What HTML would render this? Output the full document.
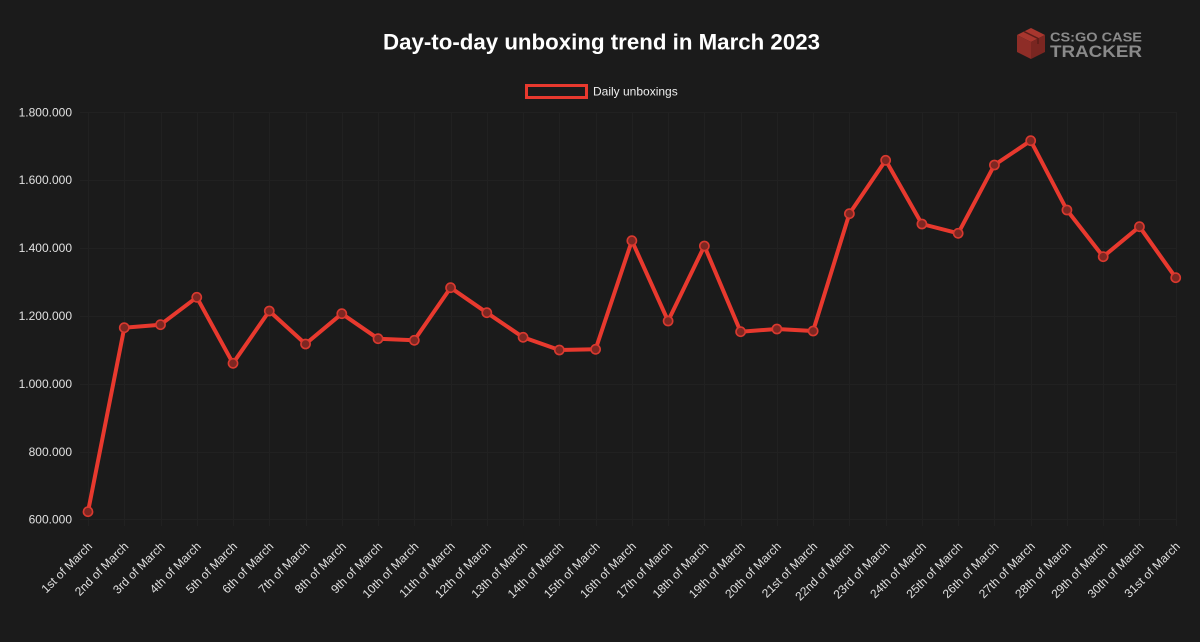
<!DOCTYPE html>
<html><head><meta charset="utf-8"><style>
html,body{margin:0;padding:0;background:#1b1b1b;}
svg{display:block;}
text{font-family:"Liberation Sans",Arial,sans-serif;}
</style></head><body>
<svg width="1200" height="642" viewBox="0 0 1200 642" xmlns="http://www.w3.org/2000/svg">
<rect width="1200" height="642" fill="#1b1b1b"/>
<g id="grid" stroke="#212121" stroke-width="1"></g>
<text x="383" y="49.5" font-size="22" font-weight="bold" fill="#ffffff" textLength="437" lengthAdjust="spacingAndGlyphs">Day-to-day unboxing trend in March 2023</text>
<!-- logo -->
<g>
<polygon points="1031,28 1045,35 1031,42 1017,35" fill="#a8362e"/>
<polygon points="1017,35 1031,42 1031,59 1017,52" fill="#8e2d27"/>
<polygon points="1031,42 1045,35 1045,52 1031,59" fill="#7a2621"/>
<polyline points="1024,31.5 1038,38.5 1038,44" fill="none" stroke="#5a1d19" stroke-width="1.5"/>
<text x="1050" y="41.5" font-size="13" font-weight="bold" fill="#8a8a8a" textLength="92" lengthAdjust="spacingAndGlyphs">CS:GO CASE</text>
<text x="1050" y="57" font-size="17" font-weight="bold" fill="#8a8a8a" textLength="92" lengthAdjust="spacingAndGlyphs">TRACKER</text>
</g>
<!-- legend -->
<rect x="526.5" y="85.5" width="60" height="12" fill="#1b1b1b" stroke="#e8392e" stroke-width="3"/>
<text x="593" y="95.5" font-size="12" fill="#eeeeee">Daily unboxings</text>
<g id="ylabels" font-size="12" fill="#e0e0e0" text-anchor="end"></g>
<g id="xlabels" font-size="12" fill="#e0e0e0" text-anchor="end"></g>
<polyline id="line" fill="none" stroke="#e8392e" stroke-width="4" stroke-linejoin="round" stroke-linecap="round"/>
<g id="pts"></g>
</svg>
<script>
var NS="http://www.w3.org/2000/svg";
var ys=[511.7,327.7,324.7,297.3,363.3,311,344,313.7,338.7,340.3,287.7,312.7,337.3,350,349.3,240.7,321,246,331.7,329,331,213.7,160.3,224,233.3,165,140.7,210,256.7,226.7,277.7];
var names=["1st","2nd","3rd","4th","5th","6th","7th","8th","9th","10th","11th","12th","13th","14th","15th","16th","17th","18th","19th","20th","21st","22nd","23rd","24th","25th","26th","27th","28th","29th","30th","31st"];
function X(i){return 88+i*36.257;}
var grid=document.getElementById("grid");
function el(tag,attrs,parent,txt){var e=document.createElementNS(NS,tag);for(var k in attrs)e.setAttribute(k,attrs[k]);if(txt!==undefined)e.textContent=txt;parent.appendChild(e);return e;}
for(var i=0;i<31;i++){var x=Math.round(X(i))+0.5;el("line",{x1:x,y1:112,x2:x,y2:526},grid);}
var yl=document.getElementById("ylabels");
var labs=["1.800.000","1.600.000","1.400.000","1.200.000","1.000.000","800.000","600.000"];
for(var k=0;k<7;k++){var y=112+k*67.9;var yy=Math.round(y)+0.5;el("line",{x1:80,y1:yy,x2:1176,y2:yy},grid);el("text",{x:72,y:y+4.3},yl,labs[k]);}
var xl=document.getElementById("xlabels");
for(var i=0;i<31;i++){var px=X(i)+5,py=547;el("text",{x:px,y:py,transform:"rotate(-45 "+px+" "+py+")"},xl,names[i]+" of March");}
var pts="";for(var i=0;i<31;i++)pts+=X(i).toFixed(1)+","+ys[i]+" ";
document.getElementById("line").setAttribute("points",pts);
var pg=document.getElementById("pts");
for(var i=0;i<31;i++){el("circle",{cx:X(i),cy:ys[i],r:4.6,fill:"#7e2722",stroke:"#d9392f","stroke-width":1.6},pg);}
</script>
</body></html>
